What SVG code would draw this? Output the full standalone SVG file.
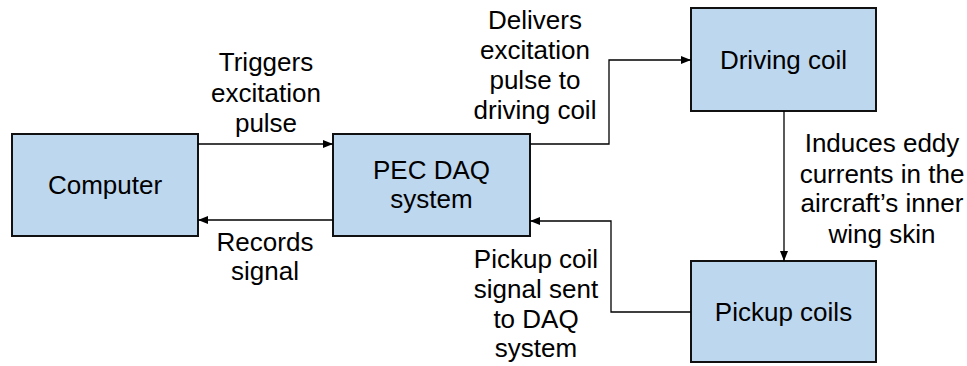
<svg xmlns="http://www.w3.org/2000/svg" width="967" height="366" viewBox="0 0 967 366">
<defs>
<marker id="ah" viewBox="0 0 10 10" refX="10" refY="5" markerWidth="10" markerHeight="10" markerUnits="userSpaceOnUse" orient="auto">
<path d="M0,1 L10,5 L0,9 Z" fill="#000"/>
</marker>
</defs>
<style>
.box{fill:#bdd7ee;stroke:#111;stroke-width:2}
.t{font-family:"Liberation Sans",Arial,sans-serif;font-size:26px;fill:#000;text-anchor:middle}
.c{fill:none;stroke:#000;stroke-width:1.3;marker-end:url(#ah)}
</style>
<rect width="967" height="366" fill="#fff"/>
<g id="computer">
<rect class="box" x="12" y="134" width="186" height="102"/>
<text class="t" x="105" y="194">Computer</text>
</g>
<g id="pec-daq">
<rect class="box" x="333" y="134" width="197" height="102"/>
<text class="t" x="431.5" y="179">PEC DAQ</text>
<text class="t" x="431.5" y="208">system</text>
</g>
<g id="driving-coil">
<rect class="box" x="691" y="8" width="185" height="103"/>
<text class="t" x="783.5" y="69">Driving coil</text>
</g>
<g id="pickup-coils">
<rect class="box" x="691" y="261" width="185" height="101"/>
<text class="t" x="783.5" y="321">Pickup coils</text>
</g>
<g id="connectors">
<path class="c" d="M198,144 H333"/>
<path class="c" d="M333,220 H198"/>
<path class="c" d="M530,144 H609 V60 H691"/>
<path class="c" d="M784,111 V261"/>
<path class="c" d="M691,312 H611 V221 H530"/>
</g>
<g id="labels">
<text class="t" x="266" y="71">Triggers</text>
<text class="t" x="266" y="101.5">excitation</text>
<text class="t" x="266" y="131.5">pulse</text>
<text class="t" x="265" y="251">Records</text>
<text class="t" x="265" y="280">signal</text>
<text class="t" x="535" y="28.5">Delivers</text>
<text class="t" x="535" y="58.5">excitation</text>
<text class="t" x="535" y="88.5">pulse to</text>
<text class="t" x="535" y="118.5">driving coil</text>
<text class="t" x="882" y="152">Induces eddy</text>
<text class="t" x="882" y="182.5">currents in the</text>
<text class="t" x="882" y="212">aircraft’s inner</text>
<text class="t" x="882" y="242.5">wing skin</text>
<text class="t" x="536" y="268">Pickup coil</text>
<text class="t" x="536" y="298">signal sent</text>
<text class="t" x="536" y="327.5">to DAQ</text>
<text class="t" x="536" y="357">system</text>
</g>
</svg>
